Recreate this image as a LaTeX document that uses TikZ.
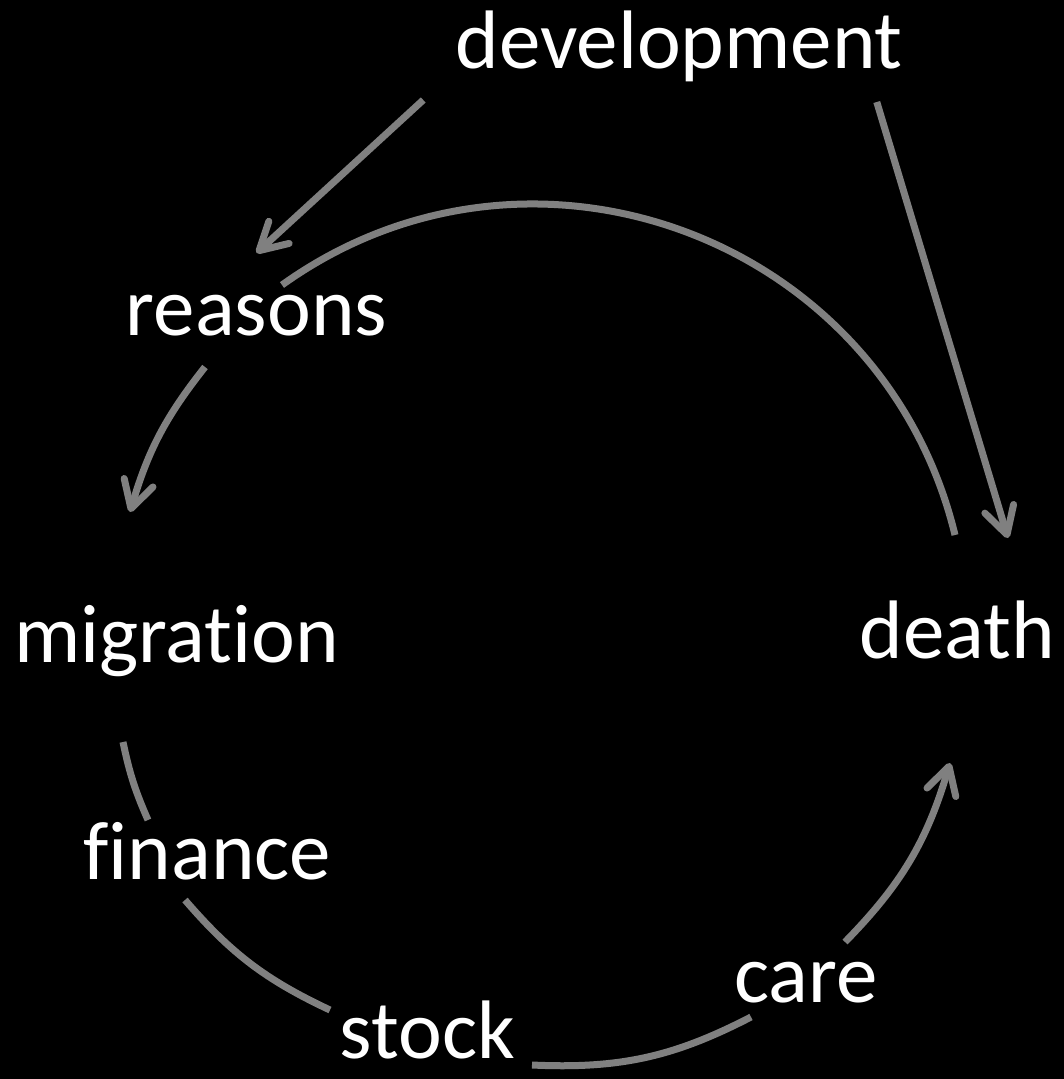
\documentclass[tikz,border=0pt]{standalone}
\usepackage{fontspec}
\setmainfont[Ligatures={NoCommon}]{Carlito}
\usepackage{xcolor}
\usetikzlibrary{positioning,arrows.meta,calc}

\tikzset{
  word/.style={text=white, inner sep=0pt, anchor=base},
  link/.style={gray, line width=7pt},
  arr/.style={link, -{Straight Barb[length=27pt,width=30pt,round]}},
}

\begin{document}
\begin{tikzpicture}[x=1pt, y=-1pt, font=\fontsize{83}{100}\selectfont]
  \useasboundingbox (0,0) rectangle (1064,1079);
  \fill[black] (0,0) rectangle (1064,1079);

  \node[word] (development) at (679,68) {development};
  \node[word] (reasons) at (256.5,335) {reasons};
  \node[word] (migration) at (176.5,662) {migration};
  \node[word] (death) at (957.5,658) {death};
  \node[word] (finance) at (207.5,879) {finance};
  \node[word] (stock) at (427.5,1058) {stock};
  \node[word] (care) at (806,1002) {care};

  % straight inputs from the top
  \draw[arr] ($(development.base west)+(-32,32)$) -- ($(reasons.base)+(0,-82)$);
  \draw[arr] ($(development.base east)+(-26,34)$) -- ($(death.base)+(50.5,-120)$);

  % the loop
  \draw[link] ($(death.base)+(-2.5,-123)$) to[bend right=56, looseness=1.09] ($(reasons.base)+(25.5,-50)$);
  \draw[arr] ($(reasons.base)+(-51.5,32)$) to[bend right=11] ($(migration.base)+(-46.5,-150)$);
  \draw[link] ($(migration.base)+(-53.5,80)$) to[bend right=6] ($(finance.base)+(-59.5,-59)$);
  \draw[link] ($(finance.base)+(-22.5,21)$) to[bend right=12] ($(stock.base)+(-97.5,-48)$);
  \draw[link] ($(stock.base)+(104.5,7)$) to[bend right=15] ($(care.base)+(-55,15)$);
  \draw[arr] ($(care.base)+(39,-60)$) to[bend right=14] ($(death.base)+(-7.5,105)$);
\end{tikzpicture}
\end{document}
